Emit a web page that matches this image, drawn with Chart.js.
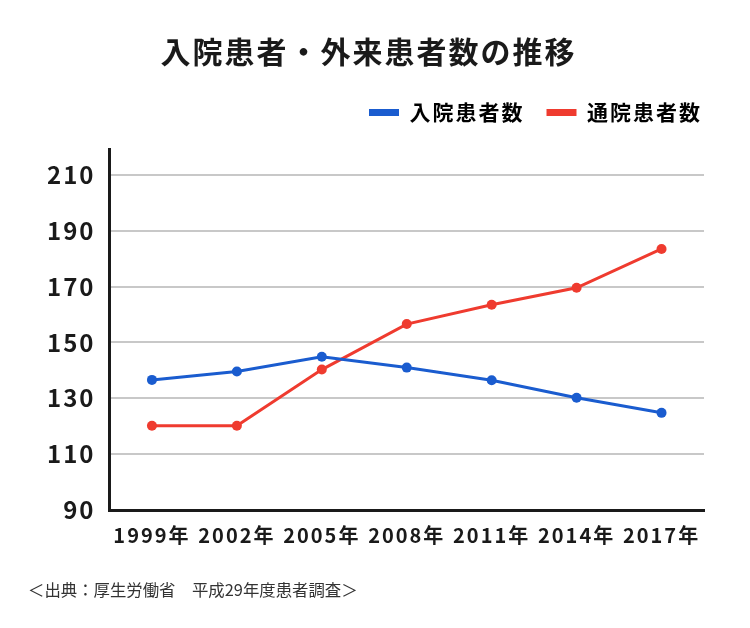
<!DOCTYPE html>
<html>
<head>
<meta charset="utf-8">
<script src="https://cdn.jsdelivr.net/npm/chart.js@4"></script>
<style>
  html, body { margin: 0; padding: 0; background: #fff; }
  #wrap { position: relative; width: 750px; height: 628px; }
  #note { position: absolute; left: 28px; top: 577px; font-family: "Noto Sans CJK JP", "Noto Sans", sans-serif; font-size: 16.4px; color: #333; }
</style>
</head>
<body>
<div id="wrap">
  <canvas id="c" width="750" height="628"></canvas>
  <div id="note">＜出典：厚生労働省　平成29年度患者調査＞</div>
</div>
<script>
const categories = ["1999年", "2002年", "2005年", "2008年", "2011年", "2014年", "2017年"];
const inpatient = [136.6, 139.6, 144.9, 141.0, 136.5, 130.2, 124.8];
const outpatient = [120.2, 120.2, 140.3, 156.6, 163.5, 169.6, 183.5];
const yTicks = [90, 110, 130, 150, 170, 190, 210];
const seriesNames = ["入院患者数", "通院患者数"];
const titleText = "入院患者・外来患者数の推移";

const FONT = '"Noto Sans CJK JP", "Noto Sans", sans-serif';
const BLUE = "#1a5ccf";
const RED = "#ef3b2f";

const spacingPlugin = {
  id: "spacing",
  beforeInit(chart) { chart.ctx.letterSpacing = "2px"; },
  beforeLayout(chart) { chart.ctx.letterSpacing = "2px"; },
  afterLayout(chart) {
    if (chart.legend) { chart.legend.left += 20; chart.legend.right += 20; }
  },
  beforeDraw(chart) { chart.ctx.letterSpacing = "2px"; }
};

const chart = new Chart(document.getElementById("c"), {
  type: "line",
  plugins: [spacingPlugin],
  data: {
    labels: categories,
    datasets: [
      { label: seriesNames[0], data: inpatient, borderColor: BLUE, backgroundColor: BLUE, pointBackgroundColor: BLUE, borderWidth: 3, pointRadius: 5, pointBorderWidth: 0, tension: 0 },
      { label: seriesNames[1], data: outpatient, borderColor: RED, backgroundColor: RED, pointBackgroundColor: RED, borderWidth: 3, pointRadius: 5, pointBorderWidth: 0, tension: 0 }
    ]
  },
  options: {
    responsive: false,
    animation: false,
    layout: { padding: { left: 33, right: 46, top: 12, bottom: 68 } },
    plugins: {
      title: {
        display: true, text: titleText, color: "#1a1a1a",
        font: { family: FONT, size: 30, weight: "bold" },
        padding: { top: 22, bottom: 10 }
      },
      legend: {
        display: true, align: "end",
        labels: {
          color: "#1a1a1a", font: { family: FONT, size: 21, weight: "bold" },
          boxWidth: 30, boxHeight: 7, padding: 22,
          generateLabels: (chart) => chart.data.datasets.map((d, i) => ({
            text: d.label, fillStyle: d.borderColor, strokeStyle: d.borderColor, lineWidth: 0, datasetIndex: i
          }))
        }
      },
      tooltip: { enabled: false }
    },
    scales: {
      x: {
        offset: true,
        grid: { display: false, drawTicks: false },
        border: { display: true, color: "#1a1a1a", width: 3 },
        ticks: { color: "#1a1a1a", font: { family: FONT, size: 20, weight: "bold" }, padding: 13, maxRotation: 0, autoSkip: false }
      },
      y: {
        min: 90, max: 219.3,
        afterBuildTicks: (scale) => { scale.ticks = yTicks.map(v => ({ value: v })); },
        grid: { color: "#c8c8c8", lineWidth: 2, drawTicks: false },
        border: { display: true, color: "#1a1a1a", width: 3 },
        ticks: { color: "#1a1a1a", font: { family: FONT, size: 24, weight: "bold" }, padding: 14 }
      }
    }
  }
});

// extra gap below the legend
const legend = chart.legend;
const origFit = legend.fit.bind(legend);
legend.fit = function () { origFit(); this.height += 16; };
chart.update();
</script>
</body>
</html>
